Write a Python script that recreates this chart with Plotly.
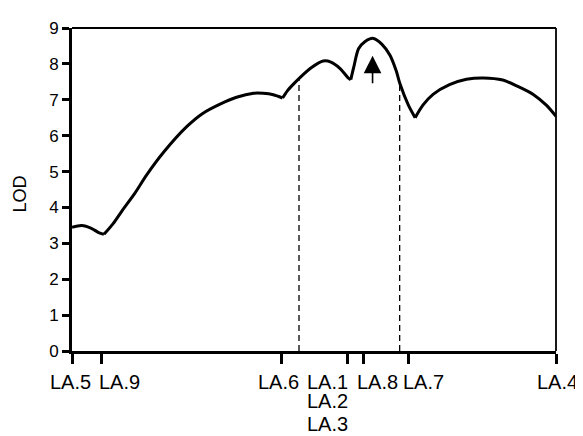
import numpy as np
import plotly.graph_objects as go

# ---- data ----
marker_names = ["LA.5", "LA.9", "LA.6", "LA.1", "LA.8", "LA.7", "LA.4"]
marker_pos = [0, 6.0, 43.2, 56.9, 60.2, 69.6, 100]
stacked_labels = ["LA.2", "LA.3"]  # same position as LA.1

lod_x = [0, 2.0, 4.0, 5.5, 6.6,
         8.5, 10.3, 13.0, 15.4, 19.0, 23.7, 27.0, 30.6, 34.0, 37.5, 39.5, 41.6, 43.5,
         44.5, 45.7, 47.1, 49.5, 51.9, 53.5, 55.4, 57.0, 57.6,
         58.2, 59.2, 60.5, 62.3, 64.0, 65.7, 67.0, 67.8, 69.5, 70.9,
         72.5, 74.6, 78.0, 81.5, 85.0, 89.0, 92.0, 95.3, 98.0, 100]
lod_y = [3.45, 3.50, 3.42, 3.30, 3.25,
         3.55, 3.90, 4.40, 4.90, 5.55, 6.25, 6.62, 6.88, 7.07, 7.18, 7.18, 7.14, 7.05,
         7.25, 7.43, 7.62, 7.90, 8.08, 8.05, 7.87, 7.62, 7.56,
         7.90, 8.42, 8.62, 8.71, 8.55, 8.24, 7.80, 7.43, 6.85, 6.50,
         6.85, 7.15, 7.42, 7.57, 7.61, 7.55, 7.38, 7.15, 6.85, 6.54]
cusp_x = [6.6, 43.5, 57.6, 70.9]

interval_x = [46.9, 67.7]
arrow_x = 62.1
arrow_y = [7.42, 8.23]

# ---- figure ----
fig = go.Figure()
lx = np.array(lod_x)
ly = np.array(lod_y)
bounds = [lod_x[0]] + cusp_x + [lod_x[-1]]
for a, b in zip(bounds[:-1], bounds[1:]):
    m = (lx >= a) & (lx <= b)
    fig.add_trace(go.Scatter(x=lx[m], y=ly[m], mode="lines",
                             line=dict(color="black", width=3, shape="spline", smoothing=0.8),
                             hoverinfo="skip", showlegend=False))

for xv in interval_x:
    top = float(np.interp(xv, lx, ly))
    fig.add_trace(go.Scatter(x=[xv, xv], y=[0, top], mode="lines",
                             line=dict(color="black", width=1.3, dash="6px,4px"),
                             hoverinfo="skip", showlegend=False))

fig.add_annotation(x=arrow_x, y=arrow_y[1], ax=arrow_x, ay=arrow_y[0],
                   xref="x", yref="y", axref="x", ayref="y", text="",
                   showarrow=True, arrowhead=2, arrowsize=2.2, arrowwidth=1.6,
                   arrowcolor="black")

font_fam = "Liberation Sans, Arial, sans-serif"
label_shift = [-2, 18, -3, -20, 14, 15, 24]
label_anchor = ["center"] * 6 + ["right"]
for name, pos, sh, anc in zip(marker_names, marker_pos, label_shift, label_anchor):
    fig.add_annotation(x=pos, y=0, xref="x", yref="paper", text=name, showarrow=False,
                       xanchor=anc, yanchor="middle", xshift=sh, yshift=-31,
                       font=dict(size=20, color="black", family=font_fam))
la1 = marker_names.index("LA.1")
for name, ys in zip(stacked_labels, [-50, -73]):
    fig.add_annotation(x=marker_pos[la1], y=0, xref="x", yref="paper", text=name,
                       showarrow=False, xanchor="center", yanchor="middle",
                       xshift=label_shift[la1], yshift=ys,
                       font=dict(size=20, color="black", family=font_fam))

fig.add_annotation(x=0, y=0.5, xref="paper", yref="paper", text="LOD", showarrow=False,
                   textangle=-90, xanchor="center", yanchor="middle", xshift=-53, yshift=-5,
                   font=dict(size=18, color="black", family=font_fam))

# top and right frame lines (thinner)
fig.add_shape(type="line", xref="paper", yref="paper", x0=0, x1=1, y0=1, y1=1,
              line=dict(color="black", width=1.8))
fig.add_shape(type="line", xref="paper", yref="paper", x0=1, x1=1, y0=0, y1=1,
              line=dict(color="black", width=1.8))

fig.update_xaxes(range=[0, 100], tickvals=marker_pos, ticktext=[""] * len(marker_pos),
                 ticks="outside", ticklen=10, tickwidth=2.7, tickcolor="black",
                 showline=True, linewidth=2.5, linecolor="black",
                 showgrid=False, zeroline=False)
fig.update_yaxes(range=[0, 9], tickvals=list(range(10)), ticks="outside", ticklen=7,
                 tickwidth=2.5, tickcolor="black", showline=True, linewidth=2.7,
                 linecolor="black", showgrid=False, zeroline=False,
                 tickfont=dict(size=17, color="black", family=font_fam))

# page body has an 8px margin: size the figure to fit inside the window
fig.update_layout(width=575, height=428, margin=dict(l=64, r=27, t=11, b=85),
                  plot_bgcolor="white", paper_bgcolor="white", showlegend=False,
                  font=dict(family=font_fam, color="black"))

fig.write_html("out.html")
